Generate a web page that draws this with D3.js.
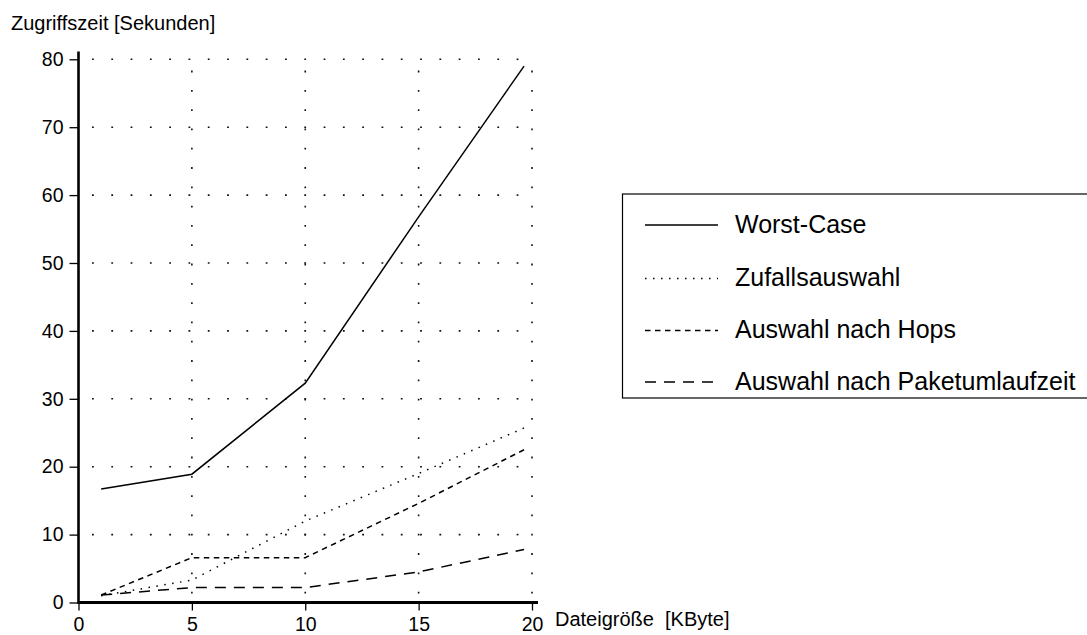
<!DOCTYPE html>
<html>
<head>
<meta charset="utf-8">
<script src="https://cdn.jsdelivr.net/npm/d3@7"></script>
<style>
  html, body { margin: 0; padding: 0; background: #fff; }
  svg { display: block; }
  text { font-family: "Liberation Sans", Arial, sans-serif; fill: #000; }
</style>
</head>
<body>
<svg id="chart" width="1087" height="635"></svg>
<script>
// ---- data ----
const xValues = [1, 5, 10, 15, 19.65];
const worstCase = [16.7, 18.9, 32.3, 56.8, 79.0];
const zufallsauswahl = [1.0, 3.3, 12.0, 19.0, 25.7];
const nachHops = [1.1, 6.6, 6.6, 14.6, 22.5];
const nachPaketumlaufzeit = [1.1, 2.2, 2.2, 4.5, 7.8];
const seriesNames = ["Worst-Case", "Zufallsauswahl", "Auswahl nach Hops", "Auswahl nach Paketumlaufzeit"];
const xTicks = [0, 5, 10, 15, 20];
const yTicks = [0, 10, 20, 30, 40, 50, 60, 70, 80];
const yTitle = "Zugriffszeit [Sekunden]";
const xTitle = "Dateigröße  [KByte]";

const seriesValues = [worstCase, zufallsauswahl, nachHops, nachPaketumlaufzeit];
const dashes = [null, "1.5,6.5", "5.5,4.5", "11,8"];

const svg = d3.select("#chart");
const x = d3.scaleLinear().domain([0, 20]).range([78.5, 532]);
const y = d3.scaleLinear().domain([0, 80]).range([602.5, 59.3]);

// grid
const grid = svg.append("g");
grid.selectAll("line.h").data(yTicks.filter(d => d > 0)).join("line")
  .attr("x1", x(0)).attr("x2", x(20))
  .attr("y1", d => y(d)).attr("y2", d => y(d))
  .attr("stroke", "#111").attr("stroke-width", 1.6)
  .attr("stroke-dasharray", "1.8,17.5").attr("stroke-dashoffset", -13.5);
grid.selectAll("line.v").data(xTicks.filter(d => d > 0)).join("line")
  .attr("x1", d => x(d)).attr("x2", d => x(d))
  .attr("y1", y(0)).attr("y2", y(80))
  .attr("stroke", "#111").attr("stroke-width", 1.6)
  .attr("stroke-dasharray", "1.8,17.5").attr("stroke-dashoffset", -9);

// axes
const xAxis = svg.append("g").attr("transform", `translate(0,${y(0)})`)
  .call(d3.axisBottom(x).tickValues(xTicks).tickSize(8).tickPadding(7));
const yAxis = svg.append("g").attr("transform", `translate(${x(0)},0)`)
  .call(d3.axisLeft(y).tickValues(yTicks).tickSize(9).tickPadding(6));
[xAxis, yAxis].forEach(a => {
  a.select(".domain").remove();
  a.selectAll(".tick line").attr("stroke", "#000").attr("stroke-width", 1.3);
  a.selectAll(".tick text").attr("font-family", "Liberation Sans, Arial, sans-serif")
    .attr("font-size", 19.5).attr("fill", "#000");
});
svg.append("line").attr("x1", x(0)).attr("x2", 538).attr("y1", y(0)).attr("y2", y(0))
  .attr("stroke", "#000").attr("stroke-width", 2.8);
svg.append("line").attr("x1", x(0)).attr("x2", x(0)).attr("y1", y(0) + 1.4).attr("y2", 51.5)
  .attr("stroke", "#000").attr("stroke-width", 2.6);

// axis titles
svg.append("text").attr("x", 11).attr("y", 30).attr("font-size", 20).text(yTitle);
svg.append("text").attr("x", 555).attr("y", 626).attr("font-size", 20)
  .style("white-space", "pre").text(xTitle);

// series lines
const line = d3.line().x(d => x(d[0])).y(d => y(d[1]));
seriesValues.forEach((vals, i) => {
  svg.append("path")
    .datum(xValues.map((xv, j) => [xv, vals[j]]))
    .attr("d", line)
    .attr("fill", "none").attr("stroke", "#000").attr("stroke-width", 1.5)
    .attr("stroke-dasharray", dashes[i]);
});

// legend
svg.append("rect").attr("x", 622.5).attr("y", 194).attr("width", 480).attr("height", 204)
  .attr("fill", "none").attr("stroke", "#000").attr("stroke-width", 1.2);
const rowY = [225, 278.5, 330.5, 382];
seriesNames.forEach((name, i) => {
  svg.append("line").attr("x1", 645).attr("x2", 718).attr("y1", rowY[i]).attr("y2", rowY[i])
    .attr("stroke", "#000").attr("stroke-width", 1.3).attr("stroke-dasharray", dashes[i]);
  svg.append("text").attr("x", 735).attr("y", rowY[i] + 7.5).attr("font-size", 25).text(name);
});
</script>
</body>
</html>
